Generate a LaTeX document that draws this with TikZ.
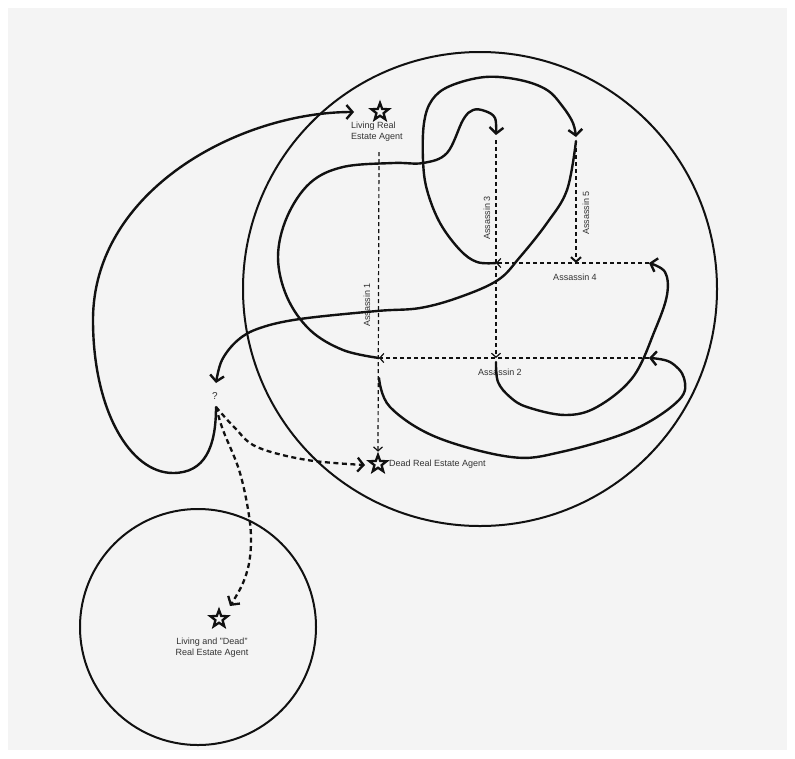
\documentclass[tikz,border=0pt]{standalone}
\usepackage{fontspec}
\setmainfont{Liberation Sans}
\usetikzlibrary{arrows.meta,shapes.geometric}
\definecolor{panel}{HTML}{F4F4F4}
\definecolor{ink}{HTML}{111111}
\definecolor{labelgray}{HTML}{333333}

\begin{document}
\begin{tikzpicture}[x=1pt,y=-1pt,
  curve/.style={draw=ink, line width=2.4pt, line cap=round, line join=round,
    -{Straight Barb[length=6pt,width=14pt]}},
  route/.style={draw=ink, line width=1.2pt, dash pattern=on 4pt off 3pt,
    -{Straight Barb[length=4pt,width=9pt]}},
  boldroute/.style={draw=ink, line width=2pt, dash pattern=on 4pt off 3pt,
    -{Straight Barb[length=4.5pt,width=10pt]}},
  fate/.style={draw=ink, line width=2.3pt, dash pattern=on 5pt off 3.5pt,
    -{Straight Barb[length=6pt,width=14pt]}},
  agent/.style={star, star points=5, star point ratio=2.4, minimum size=18pt,
    inner sep=0pt, draw=ink, line width=2.3pt, line join=miter},
  lbl/.style={text=labelgray, font=\fontsize{9}{11}\selectfont, inner sep=1pt},
  zone/.style={draw=ink, line width=2pt}]

% canvas
\useasboundingbox (0,0) rectangle (795,758);
\fill[white] (0,0) rectangle (795,758);
\fill[panel] (8,8) rectangle (787,750);

% the two worlds
\draw[zone] (480,289) circle (237);
\draw[zone] (198,627) circle (118);

% agents
\node[agent] (living) at (380,112) {};
\node[lbl, align=left, anchor=north west] (livinglbl) at (350,121) {Living Real\\Estate Agent};
\node[agent] (dead) at (378,464) {};
\node[lbl, anchor=west] (deadlbl) at (388,464) {Dead Real Estate Agent};
\node[agent] (both) at (219,619) {};
\node[lbl, align=center] (bothlbl) at (212,648) {Living and "Dead"\\Real Estate Agent};
\node[lbl, font=\fontsize{10}{12}\selectfont] (q) at (215,396) {?};

% junctions of the assassin routes and arrival points
\coordinate (a1top) at (379,152);
\coordinate (a2L) at (379,358);
\coordinate (a2R) at (649,358);
\coordinate (a3top) at (496,140);
\coordinate (a3bot) at (496,358);
\coordinate (a4L) at (496,263);
\coordinate (a4R) at (649,263);
\coordinate (a5top) at (576,141);
\coordinate (a5bot) at (576,263);
\coordinate (qout) at (216,407);
\coordinate (livingin) at (354,112);
\coordinate (deadin) at (365,465);
\coordinate (bothin) at (230,606);

% assassin routes
\draw[route] (a1top) -- (dead.north);
\draw[route] (a3top) -- (a3bot);
\draw[boldroute] (a5top) -- (a5bot);
\draw[route] (a4R) -- (a4L);
\draw[route] (a2R) -- (a2L);
\node[lbl, rotate=90] (as1) at (367,305) {Assassin 1};
\node[lbl, rotate=90] (as3) at (487,218) {Assassin 3};
\node[lbl, rotate=90] (as5) at (586,213) {Assassin 5};
\node[lbl] (as4) at (575,277) {Assassin 4};
\node[lbl] (as2) at (500,372) {Assassin 2};

% solid journeys
\draw[curve] (qout) .. controls (216,447) and (205,473) .. (173,473)
  .. controls (130,473) and (93,410) .. (93,320)
  .. controls (93,190) and (240,112) .. (livingin);
\draw[curve] plot[smooth, tension=0.6] coordinates {(a2L) (343,350) (310,330) (287,297)
  (278,257) (287,217) (310,183) (343,167) (393,163) (423,163) (447,153) (463,120)
  (473,110) (485,111) (495,118) (496,135)};
\draw[curve] plot[smooth, tension=0.6] coordinates {(a4L) (477,262) (460,250) (440,223)
  (427,190) (423,160) (424,123) (432,100) (450,86) (485,77) (520,80) (547,90) (563,107)
  (573,123) (576,137)};
\draw[curve] plot[smooth, tension=0.6] coordinates {(a5top) (567,190) (547,223)
  (520,257) (498,280) (460,297) (420,308) (377,311) (300,319) (260,328) (238,340)
  (222,360) (216,383)};
\draw[curve] plot[smooth, tension=0.6] coordinates {(496,362) (498,382) (510,397)
  (527,407) (565,415) (597,407) (633,377) (655,330) (667,295) (665,272) (649,263)};
\draw[curve] plot[smooth, tension=0.6] coordinates {(379,378) (390,407) (436,437)
  (511,457) (561,452) (633,430) (679,400) (684,378) (670,362) (649,358)};

% dashed fates from the question mark
\draw[fate] plot[smooth, tension=0.6] coordinates {(qout) (235,428) (257,447) (307,460)
  (deadin)};
\draw[fate] plot[smooth, tension=0.6] coordinates {(qout) (223,430) (240,473)
  (250,523) (250,557) (243,583) (bothin)};
\end{tikzpicture}
\end{document}
